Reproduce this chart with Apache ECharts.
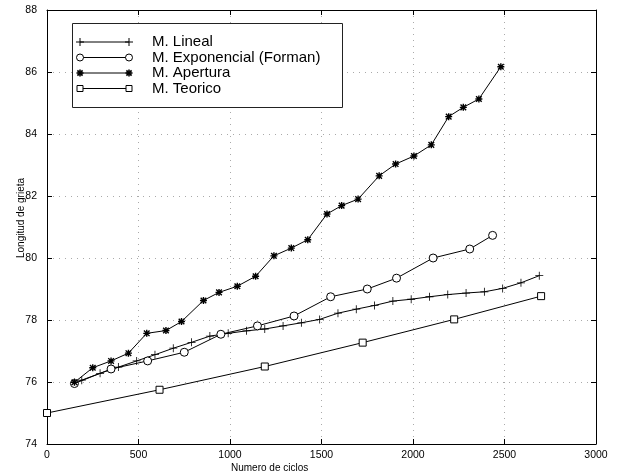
<!DOCTYPE html>
<html>
<head>
<meta charset="utf-8">
<script src="https://cdn.jsdelivr.net/npm/echarts@6/dist/echarts.min.js"></script>
<style>
html,body{margin:0;padding:0;background:#fff;}
#chart{width:621px;height:475px;}
</style>
</head>
<body>
<div id="chart"></div>
<script>
// ---- Data ----
const seriesNames = ['M. Lineal', 'M. Exponencial (Forman)', 'M. Apertura', 'M. Teorico'];

const cyclesLineal = [150,190,290,390,490,590,690,790,890,990,1090,1190,1290,1390,1490,1590,1690,1790,1890,1990,2090,2190,2290,2390,2490,2590,2690];
const lenLineal    = [75.98,76.06,76.28,76.48,76.68,76.88,77.09,77.28,77.48,77.57,77.65,77.71,77.81,77.91,78.02,78.22,78.35,78.47,78.61,78.67,78.75,78.82,78.87,78.91,79.02,79.20,79.43];

const cyclesExpo = [150,350,550,750,950,1150,1350,1550,1750,1910,2110,2310,2435];
const lenExpo    = [75.95,76.42,76.68,76.96,77.54,77.81,78.13,78.75,79.00,79.35,80.00,80.29,80.73];

const cyclesApert = [150,250,350,445,545,650,735,855,940,1040,1140,1240,1335,1425,1530,1610,1700,1815,1905,2005,2100,2195,2275,2360,2480];
const lenApert    = [75.99,76.46,76.68,76.93,77.57,77.66,77.95,78.63,78.89,79.09,79.41,80.07,80.32,80.59,81.42,81.69,81.90,82.65,83.03,83.29,83.65,84.56,84.86,85.13,86.17];

const cyclesTeor = [0,615,1190,1725,2225,2700];
const lenTeor    = [75.00,75.75,76.50,77.27,78.02,78.77];

const xTicks = [0,500,1000,1500,2000,2500,3000];
const yTicks = [74,76,78,80,82,84,86,88];

const xAxisTitle = 'Numero de ciclos';
const yAxisTitle = 'Longitud de grieta';

// ---- Styling ----
const FONT = '"Liberation Sans", Arial, Helvetica, sans-serif';
const plusPath = 'path://M0,4.5L10,4.5L10,5.5L0,5.5Z M4.5,0L5.5,0L5.5,10L4.5,10Z';
const starPath = 'path://M0,4L10,4L10,6L0,6Z M4,0L6,0L6,10L4,10Z M0.3,1.7L1.7,0.3L9.7,8.3L8.3,9.7Z M8.3,0.3L9.7,1.7L1.7,9.7L0.3,8.3Z';

function pairs(xs, ys){ return xs.map((x,i)=>[x, ys[i]]); }

const chart = echarts.init(document.getElementById('chart'), null, {renderer:'canvas'});

const axisCommon = {
  type:'value',
  axisLine:{show:true, onZero:false, lineStyle:{color:'#000', width:1}},
  axisTick:{show:true, inside:true, length:5, lineStyle:{color:'#000'}},
  axisLabel:{color:'#000', fontFamily:FONT, fontSize:10.5, formatter:(v)=>String(v)},
};

// legend drawn as MATLAB-style box (line with markers at both ends)
const legX = 72, legY = 23, legW = 270, legH = 84;
const rowY = [42, 57.5, 73, 88.5];
const lx0 = 80, lx1 = 129, tx = 152;
function markerEls(kind, cx, cy){
  const st = {stroke:'#000', lineWidth:1};
  if (kind === 0) return [
    {type:'line', shape:{x1:cx-4,y1:cy,x2:cx+4,y2:cy}, style:st},
    {type:'line', shape:{x1:cx,y1:cy-4,x2:cx,y2:cy+4}, style:st}];
  if (kind === 1) return [{type:'circle', shape:{cx:cx,cy:cy,r:3.5}, style:{fill:'#fff',stroke:'#000',lineWidth:1}}];
  if (kind === 2) return [
    {type:'line', shape:{x1:cx-3.5,y1:cy,x2:cx+3.5,y2:cy}, style:{stroke:'#000',lineWidth:1.6}},
    {type:'line', shape:{x1:cx,y1:cy-3.5,x2:cx,y2:cy+3.5}, style:{stroke:'#000',lineWidth:1.6}},
    {type:'line', shape:{x1:cx-2.6,y1:cy-2.6,x2:cx+2.6,y2:cy+2.6}, style:{stroke:'#000',lineWidth:1.6}},
    {type:'line', shape:{x1:cx-2.6,y1:cy+2.6,x2:cx+2.6,y2:cy-2.6}, style:{stroke:'#000',lineWidth:1.6}}];
  return [{type:'rect', shape:{x:cx-3,y:cy-3,width:6,height:6}, style:{fill:'#fff',stroke:'#000',lineWidth:1}}];
}
const legendEls = [{type:'rect', shape:{x:legX+0.5,y:legY+0.5,width:legW,height:legH}, style:{fill:'#fff',stroke:'#222',lineWidth:1}, z:100}];
seriesNames.forEach((n,i)=>{
  const y = rowY[i];
  legendEls.push({type:'line', shape:{x1:lx0,y1:y,x2:lx1,y2:y}, style:{stroke:'#000',lineWidth:1}, z:101});
  markerEls(i, lx0, y).forEach(e=>{e.z=102; legendEls.push(e);});
  markerEls(i, lx1, y).forEach(e=>{e.z=102; legendEls.push(e);});
  legendEls.push({type:'text', x:tx, y:y, style:{text:n, font:'15px '+FONT, fill:'#000', verticalAlign:'middle', align:'left'}, z:102});
});

const option = {
  backgroundColor:'#fff',
  animation:false,
  grid:{left:47, right:25, top:10, bottom:31, containLabel:false},
  xAxis:[
    Object.assign({}, axisCommon, {
      position:'bottom', min:xTicks[0], max:xTicks[xTicks.length-1], interval:500,
      axisLabel:Object.assign({}, axisCommon.axisLabel, {margin:6}),
      splitLine:{show:true, lineStyle:{color:'#aaa', type:[1,5], width:1}}
    }),
    Object.assign({}, axisCommon, {
      position:'top', min:xTicks[0], max:xTicks[xTicks.length-1], interval:500,
      axisLabel:{show:false}, splitLine:{show:false}
    })
  ],
  yAxis:[
    Object.assign({}, axisCommon, {
      position:'left', min:yTicks[0], max:yTicks[yTicks.length-1], interval:2,
      axisLabel:Object.assign({}, axisCommon.axisLabel, {margin:10}),
      splitLine:{show:true, lineStyle:{color:'#aaa', type:[1,5], width:1}}
    }),
    Object.assign({}, axisCommon, {
      position:'right', min:yTicks[0], max:yTicks[yTicks.length-1], interval:2,
      axisLabel:{show:false}, splitLine:{show:false}
    })
  ],
  graphic:[
    {type:'text', left:231, top:463, style:{text:xAxisTitle, font:'10px '+FONT, fill:'#000'}},
    {type:'text', x:21, y:218, rotation:Math.PI/2, style:{text:yAxisTitle, font:'10px '+FONT, fill:'#000', align:'center', verticalAlign:'middle'}},
    {type:'group', children:legendEls}
  ],
  series:[
    {name:seriesNames[0], type:'line', data:pairs(cyclesLineal,lenLineal), symbol:plusPath, symbolSize:8,
     lineStyle:{color:'#000',width:1}, itemStyle:{color:'#000'}, showAllSymbol:true},
    {name:seriesNames[1], type:'line', data:pairs(cyclesExpo,lenExpo), symbol:'circle', symbolSize:8,
     lineStyle:{color:'#000',width:1}, itemStyle:{color:'#fff', borderColor:'#000', borderWidth:1}, showAllSymbol:true},
    {name:seriesNames[2], type:'line', data:pairs(cyclesApert,lenApert), symbol:starPath, symbolSize:7,
     lineStyle:{color:'#000',width:1}, itemStyle:{color:'#000'}, showAllSymbol:true},
    {name:seriesNames[3], type:'line', data:pairs(cyclesTeor,lenTeor), symbol:'rect', symbolSize:7,
     lineStyle:{color:'#000',width:1}, itemStyle:{color:'#fff', borderColor:'#000', borderWidth:1}, showAllSymbol:true}
  ]
};
chart.setOption(option);
</script>
</body>
</html>
